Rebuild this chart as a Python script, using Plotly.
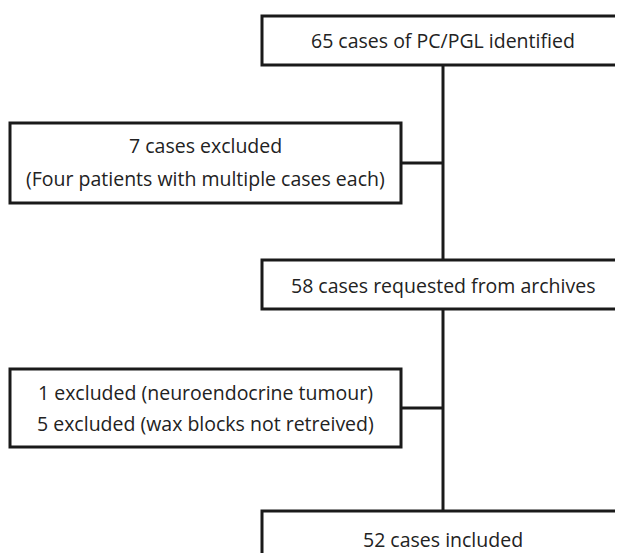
import plotly.graph_objects as go

# Flowchart content
box_texts = [
    "65 cases of PC/PGL identified",
    "7 cases excluded<br>(Four patients with multiple cases each)",
    "58 cases requested from archives",
    "1 excluded (neuroendocrine tumour)<br>5 excluded (wax blocks not retreived)",
    "52 cases included",
]
case_counts = [65, 7, 58, 6, 52]

# Layout geometry (reference pixel space): x0, x1, y0, y1
box_geom = [
    (262, 624, 16, 65),
    (10, 401, 123, 203),
    (262, 624, 260, 309),
    (10, 401, 369, 447),
    (262, 624, 511, 575),
]
text_y = [[40], [145, 178], [285], [392, 423], [539]]
connector_y = [None, 163, None, 408, None]
spine_x = 443

W, H = 623, 553
OFF = 8  # page body margin
LC = "#1a1a1a"
fig = go.Figure()
shapes = []
for (x0, x1, y0, y1) in box_geom:
    shapes.append(dict(type="rect", x0=x0, x1=x1, y0=y0, y1=y1,
                       line=dict(color=LC, width=3), fillcolor="white", layer="below"))
main = [0, 2, 4]
for a, b in zip(main[:-1], main[1:]):
    shapes.append(dict(type="line", x0=spine_x, x1=spine_x, y0=box_geom[a][3], y1=box_geom[b][2],
                       line=dict(color=LC, width=3)))
for i in [1, 3]:
    x1 = box_geom[i][1]
    yc = connector_y[i]
    shapes.append(dict(type="line", x0=x1, x1=spine_x, y0=yc, y1=yc,
                       line=dict(color=LC, width=3)))

annotations = []
for i, t in enumerate(box_texts):
    x0, x1, y0, y1 = box_geom[i]
    lines = t.split("<br>")
    for ln, yy in zip(lines, text_y[i]):
        annotations.append(dict(x=(x0 + x1) / 2 if x1 < 600 else spine_x, y=yy, text=ln, showarrow=False,
                                xanchor="center", yanchor="middle", borderpad=0,
                                font=dict(family="Open Sans", size=19.5, color="#222222")))

fig.update_layout(
    width=W - OFF, height=H - OFF, margin=dict(l=0, r=0, t=0, b=0),
    paper_bgcolor="white", plot_bgcolor="white",
    xaxis=dict(range=[OFF, W], visible=False, fixedrange=True),
    yaxis=dict(range=[H, OFF], visible=False, fixedrange=True),
    shapes=shapes, annotations=annotations, showlegend=False,
)
fig.write_html("out.html", config={"displayModeBar": False})
